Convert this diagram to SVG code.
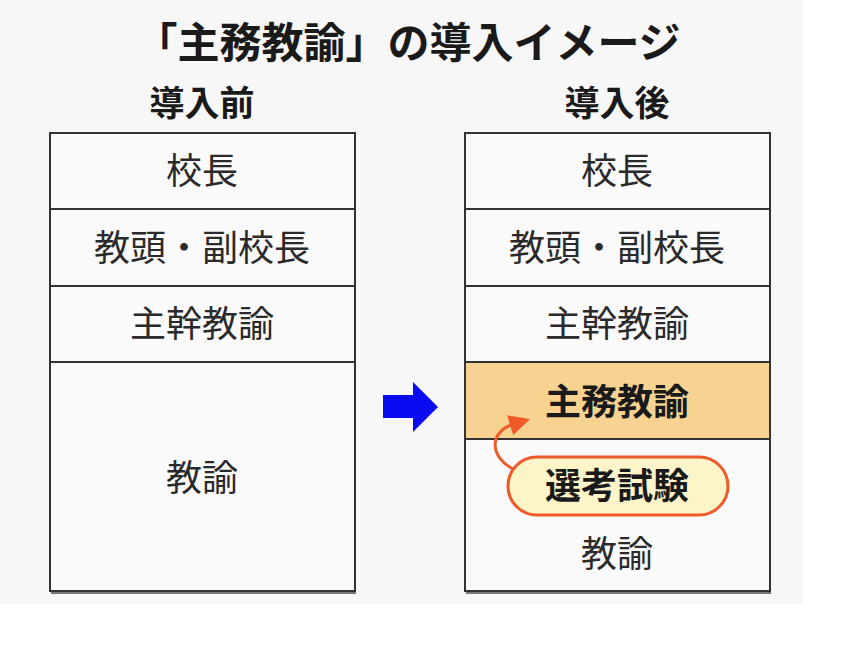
<svg xmlns="http://www.w3.org/2000/svg" width="852" height="658" viewBox="0 0 852 658">
<style>
.t{font-family:"Noto Sans CJK JP","Noto Sans CJK SC",sans-serif;fill:#1a1a1a;text-anchor:middle}
.title{font-size:42px;font-weight:bold}
.hd{font-size:35px;font-weight:bold}
.lb{font-size:36px;font-weight:normal;fill:#2a2a2a}
.bd{font-size:36px;font-weight:bold}
.cell{fill:#fafafa;stroke:#333;stroke-width:2}
.sh{stroke:#777;stroke-width:2}
</style>
<defs>
<marker id="oh" viewBox="0 0 10 10" refX="2" refY="5" markerWidth="7" markerHeight="7" markerUnits="strokeWidth" orient="auto">
<path d="M0,0 L10,5 L0,10 Z" fill="#f05a28"/>
</marker>
</defs>
<rect x="0" y="0" width="803" height="604" fill="#f7f7f7"/>
<text class="t title" x="408" y="58">「主務教諭」の導入イメージ</text>
<text class="t hd" x="202" y="116">導入前</text>
<text class="t hd" x="617" y="116">導入後</text>

<g id="before">
<line class="sh" x1="51" y1="593" x2="356" y2="593"/>
<rect class="cell" x="50" y="133" width="305" height="76"/>
<rect class="cell" x="50" y="209" width="305" height="77"/>
<rect class="cell" x="50" y="286" width="305" height="76"/>
<rect class="cell" x="50" y="362" width="305" height="229"/>
<text class="t lb" x="202" y="184">校長</text>
<text class="t lb" x="202" y="261">教頭・副校長</text>
<text class="t lb" x="202" y="337">主幹教諭</text>
<text class="t lb" x="202" y="491">教諭</text>
</g>

<g id="after">
<line class="sh" x1="466" y1="593" x2="771" y2="593"/>
<rect class="cell" x="465" y="133" width="305" height="76"/>
<rect class="cell" x="465" y="209" width="305" height="77"/>
<rect class="cell" x="465" y="286" width="305" height="76"/>
<rect class="cell" x="465" y="362" width="305" height="77" style="fill:#f8d290"/>
<rect class="cell" x="465" y="439" width="305" height="152"/>
<text class="t lb" x="617" y="184">校長</text>
<text class="t lb" x="617" y="261">教頭・副校長</text>
<text class="t lb" x="617" y="337">主幹教諭</text>
<text class="t bd" x="617" y="415">主務教諭</text>
<text class="t lb" x="617" y="567">教諭</text>
</g>

<g id="exam">
<rect x="508" y="457" width="220" height="58" rx="29" ry="29" fill="#fdf4c8" stroke="#ee5a2a" stroke-width="3"/>
<text class="t bd" x="617" y="499">選考試験</text>
</g>

<g id="connectors">
<path d="M513,469 C490,457 488,432 514,424" fill="none" stroke="#f05a28" stroke-width="3" marker-end="url(#oh)"/>
<polygon points="383,395 413,395 413,382 438,407 413,432 413,418 383,418" fill="#0a0af0"/>
</g>
</svg>
